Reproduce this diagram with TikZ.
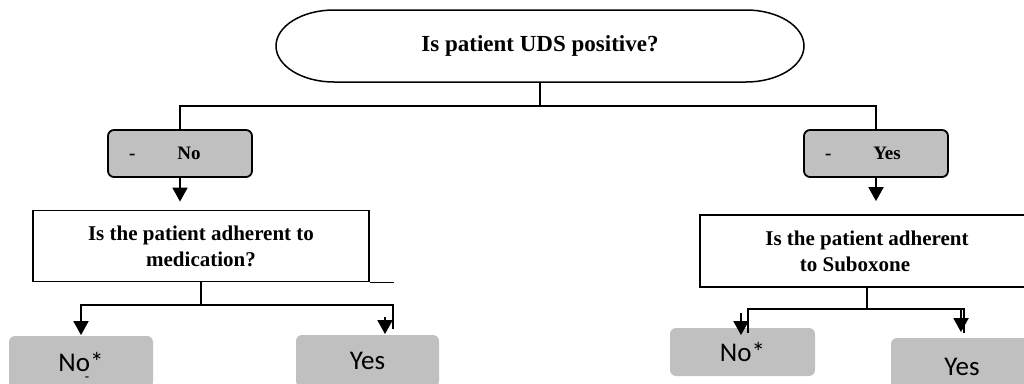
\documentclass[tikz,border=0pt]{standalone}
\usepackage{fontspec}
\setmainfont{Liberation Serif}
\newfontfamily\calib{Carlito}
\usetikzlibrary{positioning, arrows.meta}
\definecolor{grey}{HTML}{C0C0C0}
\tikzset{
    >={Triangle[width=15pt,length=14pt]},
    top/.style={minimum width=528pt, minimum height=72pt, inner sep=0pt, outer sep=0pt,
        font=\bfseries\fontsize{23}{27}\selectfont},
    pick/.style={draw, fill=grey, rounded corners=6pt, minimum width=144pt,
        minimum height=47pt, text width=122pt, inner xsep=11pt, align=left,
        font=\bfseries\fontsize{19}{22}\selectfont},
    ask/.style={draw, align=center, inner sep=0pt,
        font=\bfseries\fontsize{21}{26}\selectfont},
    ans/.style={fill=grey, rounded corners=6pt, inner sep=0pt,
        font=\calib\fontsize{27}{30}\selectfont}
}

\begin{document}
\begin{tikzpicture}[x=1pt, y=-1pt, line width=1.8pt]
    \useasboundingbox (0,0) rectangle (1024,383);
    % first question
        \node[top] (uds) at (540,46) {Is patient UDS positive?};
        \draw[line width=1.5pt] ([xshift=58pt]uds.north west) -- ([xshift=-58pt]uds.north east)
            arc[start angle=90, end angle=-90, x radius=58pt, y radius=36pt]
            -- ([xshift=58pt]uds.south west)
            arc[start angle=270, end angle=90, x radius=58pt, y radius=36pt] -- cycle;
        \node[pick] (neg) at (180,153.5) {\hspace*{10pt}-\hspace{42pt}No};
        \node[pick] (pos) at (876,153.5) {\hspace*{10pt}-\hspace{42pt}Yes};
        \coordinate (fork) at (540,106);
        \draw (uds.south) -- (fork);
        \draw (neg.north) |- (fork) -| (pos.north);
    % second questions
        \node[ask, minimum width=336pt, minimum height=71pt] (med) at (201,246)
            {Is the patient adherent to\\medication?};
        \node[ask, minimum width=334pt, minimum height=72pt] (sub) at (867,251)
            {Is the patient adherent\\\hspace*{-24pt}to Suboxone};
        \draw[->, shorten >=8pt] (neg.south) -- (neg.south |- med.north);
        \draw[->, shorten >=13pt] (pos.south) -- (pos.south |- sub.north);
        \draw (med.south east) -- ++(24,0);
    % answers
        \node[ans, minimum width=144pt, minimum height=52pt] (noa) at (81,362) {No*};
        \node[ans, minimum width=143pt, minimum height=52pt] (yesa) at (367.5,361) {Yes};
        \node[ans, minimum width=145pt, minimum height=48pt] (nob) at (742.5,352) {No*};
        \node[ans, minimum width=142pt, minimum height=58pt] (yesb) at (962,367) {Yes};
        \node[inner sep=0pt, font=\bfseries\fontsize{13}{13}\selectfont] (nomark) at (87,379) {-};
        \coordinate (fa) at (201,305);
        \coordinate (ra) at (393,329);
        \coordinate (ta) at (385,317);
        \draw (med.south) -- (fa);
        \draw[->] (fa) -| (noa.north);
        \draw (fa) -| (ra);
        \draw[->] (ta) -- (ta |- yesa.north);
        \coordinate (fb) at (867,309);
        \coordinate (lb) at (748,333);
        \coordinate (rb) at (964,333);
        \coordinate (tb) at (741,313);
        \coordinate (sb) at (961,309);
        \draw (sub.south) -- (fb);
        \draw (lb) |- (fb) -| (rb);
        \draw[->, shorten >=-8pt] (tb) -- (tb |- nob.north);
        \draw[->, shorten >=5pt] (sb) -- (sb |- yesb.north);
    \end{tikzpicture}
\end{document}
